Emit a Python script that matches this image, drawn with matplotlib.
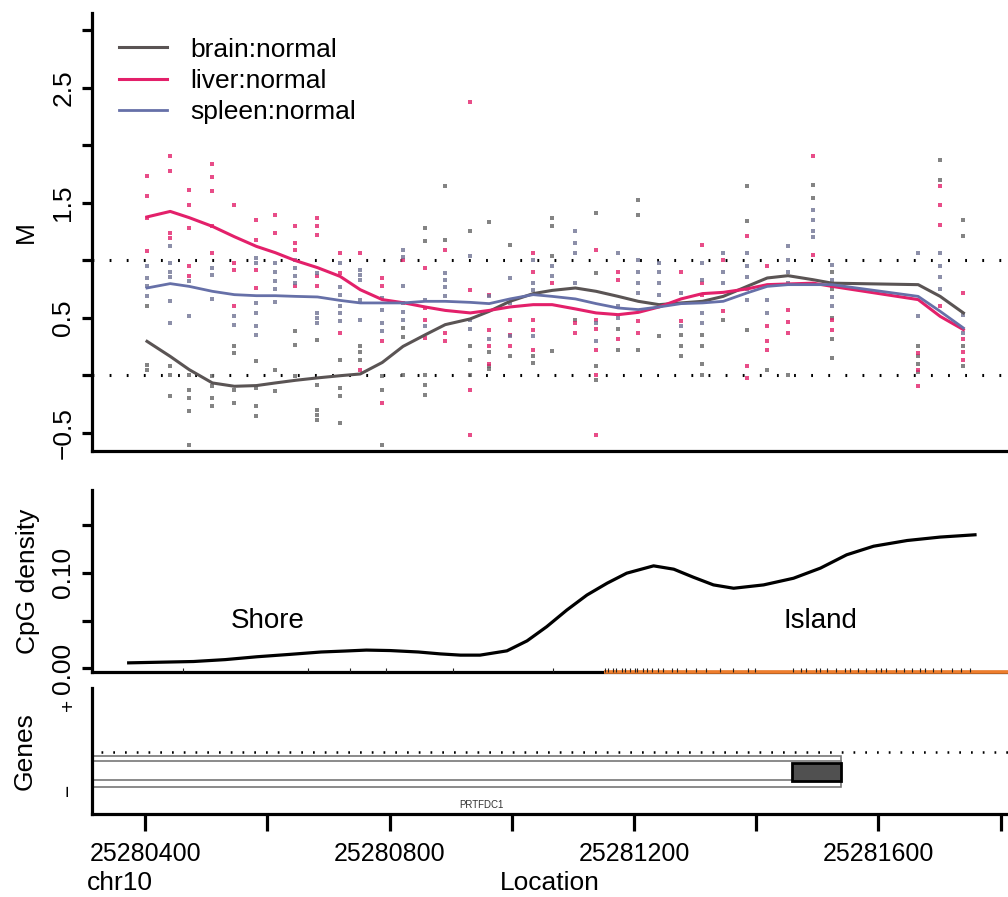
import matplotlib
matplotlib.use('Agg')
import matplotlib.pyplot as plt
from matplotlib.patches import Rectangle

plt.rcParams['font.family'] = ['Liberation Sans', 'DejaVu Sans']

# probe positions (chr10) and methylation values per tissue, one list per probe
probe_pos = [25280403, 25280441, 25280472, 25280510, 25280546, 25280582, 25280613, 25280646,
             25280682, 25280719, 25280752, 25280788, 25280822, 25280858, 25280891, 25280932,
             25280963, 25280997, 25281035, 25281066, 25281104, 25281138, 25281174, 25281207,
             25281241, 25281277, 25281312, 25281346, 25281385, 25281418, 25281452, 25281493,
             25281524, 25281665, 25281701, 25281739]

brain_pts = [[0.598, 0.09, 0.047], [0.076, 0.004, -0.185], [0.004, -0.126, -0.2, -0.316, -0.605],
             [-0.01, -0.098, -0.2, -0.272], [0.25, 0.192, -0.126, -0.243], [0.12, -0.113, -0.272, -0.359],
             [0.047, -0.141], [0.38, 0.265, -0.01], [0.309, -0.083, -0.3, -0.35, -0.39],
             [0.134, -0.113, -0.185, -0.416], [0.25, 0.2, 0.134], [-0.01, -0.126, -0.605],
             [0.41, 0.33, 0.004], [1.28, 1.163, 0.004, -0.083, -0.17], [1.642, 1.178],
             [1.25, 0.25, 0.134, 0.0], [1.329, 0.2, 0.08, 0.05], [1.135, 0.163], [0.163, 0.105],
             [1.366, 1.294, 1.033, 0.207], [0.48], [1.41, 0.888, 0.076, -0.04], [0.4, 0.22],
             [1.526, 1.395, 0.22], [0.337], [0.35, 0.25, 0.163], [0.35, 0.25, 0.1, 0.004], [0.482],
             [1.642, 1.337, 0.395], [0.047], [0.004], [1.656, 1.54], [0.9, 0.75, 0.5, 0.31, 0.149],
             [0.25, 0.17, 0.1, 0.03], [1.874, 1.7], [1.352, 1.207, 0.25, 0.076]]

liver_pts = [[1.735, 1.555, 1.366, 1.076], [1.903, 1.778, 1.236, 1.192], [1.613, 1.482, 1.28, 0.946, 0.859],
             [1.839, 1.72, 1.6, 1.3, 1.062], [1.482, 0.975, 0.917, 0.598], [1.352, 1.178, 0.917, 0.758],
             [1.395, 1.236], [1.30, 1.149, 1.09, 0.772], [1.366, 1.294, 1.22, 0.859, 0.772],
             [1.062, 0.888, 0.366], [1.062, 0.047], [0.845, 0.772, 0.294, -0.243], [1.004],
             [0.932, 0.583, 0.482, 0.323], [1.09, 0.366, 0.294], [2.38, 0.743, -0.127, -0.52],
             [0.70, 0.395, 0.25, 0.1], [0.48, 0.35, 0.25], [1.06, 0.9, 0.482, 0.395, 0.22], [0.80],
             [0.453, 0.37], [1.09, 0.48, 0.4, 0.22, 0.0, -0.52], [0.90, 0.83, 0.31], [0.468, 0.366],
             [0.598], [0.9, 0.468], [1.134, 0.80, 0.70], [1.004, 0.555], [1.207, 0.076, -0.026],
             [0.946, 0.424, 0.3, 0.22], [0.569, 0.46, 0.37], [1.903, 1.048], [0.772, 0.482, 0.395],
             [0.192, 0.047, -0.098], [1.642, 1.482, 1.308, 0.598], [0.714, 0.31, 0.2, 0.13]]

spleen_pts = [[0.946, 0.845, 0.772, 0.685], [1.12, 0.975, 0.90, 0.85, 0.642, 0.453], [0.816, 0.511],
              [0.932, 0.874, 0.662], [0.511, 0.439], [1.018, 0.975, 0.627, 0.54, 0.424, 0.352],
              [0.975, 0.9, 0.82, 0.75, 0.64], [1.004, 0.93, 0.86, 0.8], [0.888, 0.54, 0.50, 0.453],
              [0.975, 0.77, 0.70, 0.60, 0.54, 0.467], [0.917, 0.87, 0.83, 0.656, 0.482],
              [0.67, 0.569, 0.453, 0.381], [1.09, 1.03, 0.772, 0.627, 0.55, 0.48], [0.656, 0.424],
              [0.888, 0.83, 0.77, 0.685], [1.033, 0.48, 0.40], [0.685, 0.31], [0.845, 0.627, 0.337],
              [1.0, 0.8, 0.74, 0.337], [0.95, 0.86], [1.25, 1.15, 1.06, 0.8], [0.45, 0.3],
              [1.062, 0.598, 0.5], [1.0, 0.9, 0.8, 0.714], [0.975, 0.9, 0.8, 0.7], [0.714, 0.424],
              [0.975, 0.83, 0.54, 0.45], [1.062, 0.9, 0.8], [1.06, 0.95, 0.85, 0.75, 0.65],
              [0.656, 0.54], [1.12, 1.0, 0.9, 0.8], [1.44, 1.35, 1.25, 1.2], [0.96, 0.83, 0.68, 0.6],
              [1.062, 0.511], [1.06, 0.95, 0.85, 0.75], [0.526, 0.366]]

# smoothed profiles at the probe positions
brain_smooth = [0.294, 0.163, 0.048, -0.068, -0.097, -0.091, -0.068, -0.045, -0.024, -0.005, 0.01, 0.11,
                0.25, 0.35, 0.439, 0.489, 0.555, 0.642, 0.709, 0.737, 0.758, 0.729, 0.685, 0.642,
                0.613, 0.628, 0.642, 0.685, 0.772, 0.845, 0.865, 0.83, 0.80, 0.787, 0.685, 0.541]
liver_smooth = [1.376, 1.424, 1.37, 1.294, 1.204, 1.12, 1.065, 0.996, 0.935, 0.859, 0.743, 0.657,
                0.63, 0.593, 0.563, 0.541, 0.563, 0.593, 0.613, 0.613, 0.576, 0.541, 0.526, 0.546,
                0.593, 0.663, 0.709, 0.72, 0.75, 0.787, 0.793, 0.80, 0.772, 0.657, 0.511, 0.396]
spleen_smooth = [0.758, 0.796, 0.772, 0.729, 0.70, 0.691, 0.691, 0.685, 0.68, 0.65, 0.628, 0.628,
                 0.628, 0.642, 0.642, 0.633, 0.622, 0.663, 0.70, 0.685, 0.663, 0.622, 0.584, 0.57,
                 0.593, 0.622, 0.628, 0.642, 0.715, 0.772, 0.787, 0.787, 0.787, 0.685, 0.555, 0.41]

# CpG density curve
cpg_x = [25280373, 25280479, 25280531, 25280583, 25280637, 25280688, 25280727, 25280762, 25280801,
         25280847, 25280883, 25280916, 25280948, 25280992, 25281025, 25281057, 25281090, 25281123,
         25281156, 25281188, 25281232, 25281265, 25281297, 25281330, 25281363, 25281412, 25281461,
         25281505, 25281548, 25281592, 25281647, 25281701, 25281758]
cpg_density = [0.0056, 0.007, 0.009, 0.012, 0.0145, 0.017, 0.018, 0.019, 0.0185,
               0.017, 0.015, 0.0137, 0.0137, 0.0182, 0.0287, 0.0435, 0.061, 0.0768,
               0.0892, 0.0997, 0.1074, 0.1039, 0.0955, 0.0874, 0.0839, 0.0874, 0.0944,
               0.105, 0.119, 0.128, 0.134, 0.1376, 0.140]

# individual CpG sites (rug)
cpg_sites = [25280462, 25280667, 25280736, 25280794, 25280904, 25281068,
             25281152, 25281158, 25281166, 25281171, 25281180, 25281186, 25281193, 25281201, 25281205,
             25281214, 25281222, 25281230, 25281239, 25281247, 25281262, 25281270, 25281285, 25281301,
             25281318, 25281340, 25281362, 25281386, 25281398, 25281460, 25281474, 25281482, 25281497,
             25281505, 25281516, 25281530, 25281545, 25281553, 25281566, 25281580, 25281596, 25281604,
             25281612, 25281629, 25281641, 25281655, 25281668, 25281676, 25281690, 25281702, 25281720,
             25281735, 25281750]
island_start, island_end = 25281151, 25281900

# gene model
gene_name = 'PRTFDC1'
gene_start, gene_end = 25280250, 25281539
exon_start, exon_end = 25281459, 25281539

x_left, x_right = 25280313, 25281812
x_ticks = [25280400, 25280600, 25280800, 25281000, 25281200, 25281400, 25281600, 25281800]

c_brain = '#5a5454'
c_liver = '#e3206a'
c_spleen = '#6670a8'

W, H = 1008, 897


def box(l, t, r, b):
    return [l / W, 1 - b / H, (r - l) / W, (b - t) / H]


fig = plt.figure(figsize=(W / 100, H / 100), dpi=100)
fig.patch.set_facecolor('white')

lw_ax = 2.3
fs = 19


def style(ax):
    for s in ['top', 'right']:
        ax.spines[s].set_visible(False)
    for s in ['left', 'bottom']:
        ax.spines[s].set_linewidth(lw_ax)
    ax.set_xlim(x_left, x_right)
    ax.tick_params(axis='y', width=lw_ax, length=7, labelsize=fs, pad=5)
    ax.tick_params(axis='x', bottom=False, labelbottom=False)


# ---- methylation panel
ax1 = fig.add_axes(box(92, 13, 1008, 451))
style(ax1)
for pts, col in [(brain_pts, '#666666'), (liver_pts, c_liver), (spleen_pts, '#6f7394')]:
    xs = [p for p, v in zip(probe_pos, pts) for _ in v]
    ys = [y for v in pts for y in v]
    ax1.scatter(xs, ys, s=9, marker='s', color=col, alpha=0.8, linewidths=0, zorder=2)
for y0 in [0, 1]:
    ax1.axhline(y0, color='black', lw=2.2, ls=(0, (0.6, 5)), zorder=1)
ax1.plot(probe_pos, brain_smooth, color=c_brain, lw=2.2, label='brain:normal', zorder=3)
ax1.plot(probe_pos, liver_smooth, color=c_liver, lw=2.2, label='liver:normal', zorder=3)
ax1.plot(probe_pos, spleen_smooth, color=c_spleen, lw=2.0, label='spleen:normal', zorder=3)
ax1.set_ylim(-0.66, 3.15)
ax1.set_yticks([-0.5, 0, 0.5, 1, 1.5, 2, 2.5, 3])
ax1.set_yticklabels(['\u22120.5', '', '0.5', '', '1.5', '', '2.5', ''], rotation=90, va='center')
ax1.set_ylabel('M', fontsize=fs, labelpad=10)
ax1.legend(loc='upper left', bbox_to_anchor=(0.03, 0.944), frameon=False, fontsize=fs,
           handlelength=1.8, handletextpad=0.9, labelspacing=0.28, borderaxespad=0, borderpad=0)

# ---- CpG density panel
ax2 = fig.add_axes(box(92, 490, 1008, 672))
style(ax2)
ax2.plot(cpg_x, cpg_density, color='black', lw=2.3)
ax2.set_ylim(-0.004, 0.187)
ax2.set_yticks([0, 0.05, 0.10, 0.15])
ax2.set_yticklabels(['0.00', '', '0.10', ''], rotation=90, va='center')
ax2.set_ylabel('CpG density', fontsize=fs, labelpad=8)
ax2.plot([island_start, island_end], [-0.004, -0.004], color='#ee7d2c', lw=2.6,
         solid_capstyle='butt', clip_on=False, zorder=4)
ax2.vlines(cpg_sites, -0.004, 0.0, color='#222222', lw=0.8, clip_on=False, zorder=5)
ax2.text(25280600, 0.049, 'Shore', fontsize=20, ha='center', va='center')
ax2.text(25281505, 0.049, 'Island', fontsize=20, ha='center', va='center')

# ---- gene panel
ax3 = fig.add_axes(box(92, 688, 1008, 814))
style(ax3)
ax3.set_ylim(0, 1)
ax3.set_yticks([0.19, 0.865])
ax3.set_yticklabels(['\u2212', '+'], rotation=90, va='center', fontsize=15)
ax3.tick_params(axis='y', length=0, pad=10)
ax3.set_ylabel('Genes', fontsize=fs, labelpad=16)
ax3.plot([gene_start, x_right], [0.492, 0.492], color='black', lw=1.8, ls=(0, (0.7, 4)))
ax3.add_patch(Rectangle((gene_start, 0.214), gene_end - gene_start, 0.246,
                        facecolor='white', edgecolor='#777777', lw=1.2))
ax3.add_patch(Rectangle((gene_start, 0.27), gene_end - gene_start, 0.151,
                        facecolor='white', edgecolor='#777777', lw=1.2))
ax3.add_patch(Rectangle((exon_start, 0.262), exon_end - exon_start, 0.143,
                        facecolor='#505050', edgecolor='black', lw=2))
ax3.text(25280950, 0.071, gene_name, fontsize=7, ha='center', va='center', color='#333333')
ax3.set_xticks(x_ticks)
ax3.set_xticklabels([str(t) if i % 2 == 0 else '' for i, t in enumerate(x_ticks)])
ax3.tick_params(axis='x', bottom=True, labelbottom=True, direction='out', length=12,
                width=lw_ax, labelsize=18, pad=8)
ax3.set_xlabel('Location', fontsize=fs, labelpad=4)
fig.text(87 / W, 1 - 883 / H, 'chr10', fontsize=fs, ha='left', va='center')

fig.savefig('out.png', dpi=100)
